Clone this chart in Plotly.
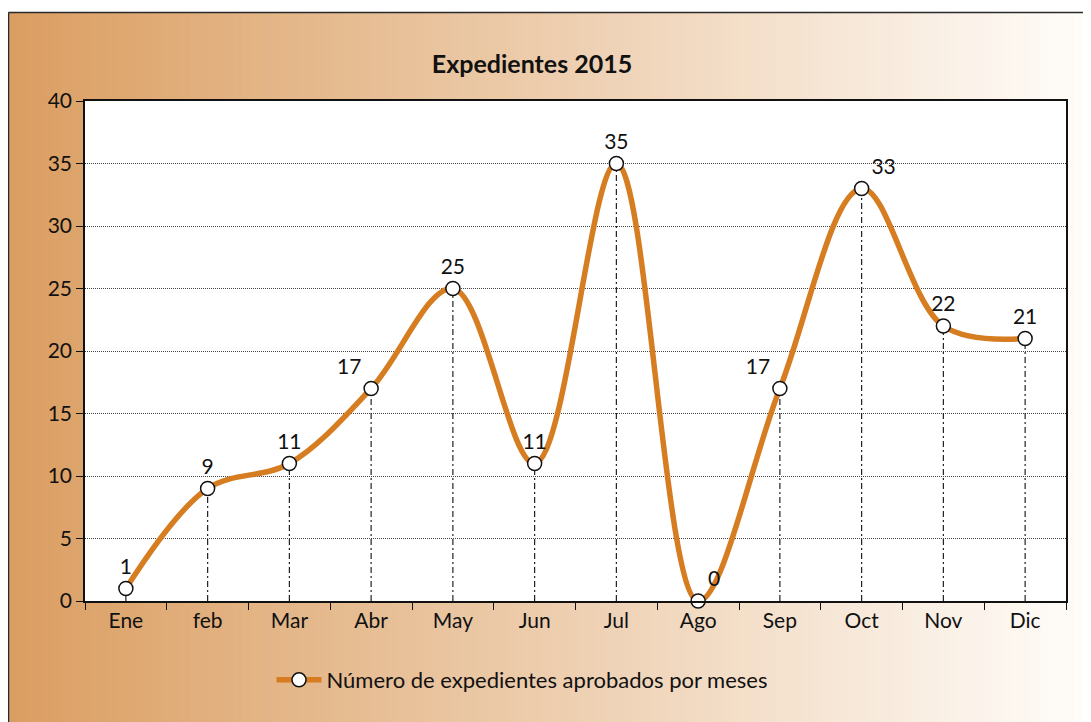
import plotly.graph_objects as go

# Chart data
months = ["Ene", "feb", "Mar", "Abr", "May", "Jun", "Jul", "Ago", "Sep", "Oct", "Nov", "Dic"]
expedientes = [1, 9, 11, 17, 25, 11, 35, 0, 17, 33, 22, 21]
label_pos = ["top center", "top center", "top center", "top left", "top center", "top center",
             "top center", "top right", "top left", "top right", "top center", "top center"]
series_name = "Número de expedientes aprobados por meses"
title_text = "Expedientes 2015"

# The page body adds an 8px margin, so the figure is a bit smaller than the window
OFF = 8
W, H = 1091 - OFF, 722 - OFF
ML, MR, MT, MB = 77, 25, 93, 121
PW, PH = W - ML - MR, H - MT - MB
FONT = "Lato, 'Open Sans', sans-serif"
ORANGE = "#D67D22"


def px_x(px):
    # px given in window coordinates
    return (px - OFF - ML) / PW


def px_y(py):
    return (H - MB - (py - OFF)) / PH


fig = go.Figure()

# Drop lines from each point down to the axis
drop_x, drop_y = [], []
for m, v in zip(months, expedientes):
    drop_x += [m, m, None]
    drop_y += [0, v, None]
fig.add_trace(go.Scatter(
    x=drop_x, y=drop_y, mode="lines", showlegend=False, hoverinfo="skip",
    line=dict(color="#222222", width=1.2, dash="6px,3px,2px,3px")
))

# Smoothed series
fig.add_trace(go.Scatter(
    x=months, y=expedientes, name=series_name,
    mode="lines+markers+text",
    line=dict(color=ORANGE, width=5.5, shape="spline", smoothing=1.0),
    marker=dict(size=14, color="white", line=dict(color="#111111", width=1.5)),
    text=[str(v) for v in expedientes], textposition=label_pos,
    textfont=dict(family=FONT, size=21, color="#111111"),
    cliponaxis=False
))

# Gradient background built from thin vertical strips
shapes = []
left_c, right_c = (219, 158, 98), (255, 253, 250)
n = 120
x0_px, x1_px = 8, 1091 + 2
for i in range(n):
    t = i / (n - 1)
    c = tuple(round(a + (b - a) * t) for a, b in zip(left_c, right_c))
    a_px = x0_px + (x1_px - x0_px) * i / n
    b_px = x0_px + (x1_px - x0_px) * (i + 1) / n + 0.8
    shapes.append(dict(
        type="rect", xref="paper", yref="paper", layer="below",
        x0=px_x(a_px), x1=px_x(b_px), y0=px_y(730), y1=px_y(12),
        fillcolor=f"rgb{c}", line=dict(width=0)
    ))
# Plot area fill
shapes.append(dict(type="rect", xref="paper", yref="paper", layer="below",
                   x0=0, x1=1, y0=0, y1=1, fillcolor="white", line=dict(width=0)))
# Outer frame (top and left edges)
shapes.append(dict(type="line", xref="paper", yref="paper",
                   x0=px_x(8.5), x1=px_x(1100), y0=px_y(12.5), y1=px_y(12.5),
                   line=dict(color="#2a2a2a", width=1.5)))
shapes.append(dict(type="line", xref="paper", yref="paper",
                   x0=px_x(8.5), x1=px_x(8.5), y0=px_y(12.5), y1=px_y(730),
                   line=dict(color="#2a2a2a", width=1.5)))

fig.update_layout(
    width=W, height=H,
    margin=dict(l=ML, r=MR, t=MT, b=MB),
    paper_bgcolor="white", plot_bgcolor="rgba(0,0,0,0)",
    shapes=shapes,
    font=dict(family=FONT, size=21, color="#111111"),
    title=dict(text="<b>" + title_text + "</b>", x=px_x(532), xanchor="center",
               xref="paper", y=1 - (64 - OFF) / H, yanchor="middle",
               font=dict(family=FONT, size=25, color="#111111")),
    showlegend=True,
    legend=dict(orientation="h", x=px_x(522), xanchor="center", y=px_y(680), yanchor="middle",
                bgcolor="rgba(0,0,0,0)", font=dict(family=FONT, size=22, color="#111111"),
                itemwidth=45),
)

fig.update_xaxes(
    type="category", range=[-0.5, 11.5],
    showline=True, linecolor="#111111", linewidth=1.5, mirror=True,
    ticks="outside", tickson="boundaries", ticklen=7, tickcolor="#111111",
    showgrid=False, zeroline=False,
    tickfont=dict(family=FONT, size=21)
)
fig.update_yaxes(
    range=[0, 40], dtick=5,
    showline=True, linecolor="#111111", linewidth=1.5, mirror=True,
    ticks="outside", ticklen=7, tickcolor="#111111",
    showgrid=True, gridcolor="#444444", gridwidth=1, griddash="1px,1px",
    zeroline=False,
    tickfont=dict(family=FONT, size=21)
)

fig.write_html("out.html")
